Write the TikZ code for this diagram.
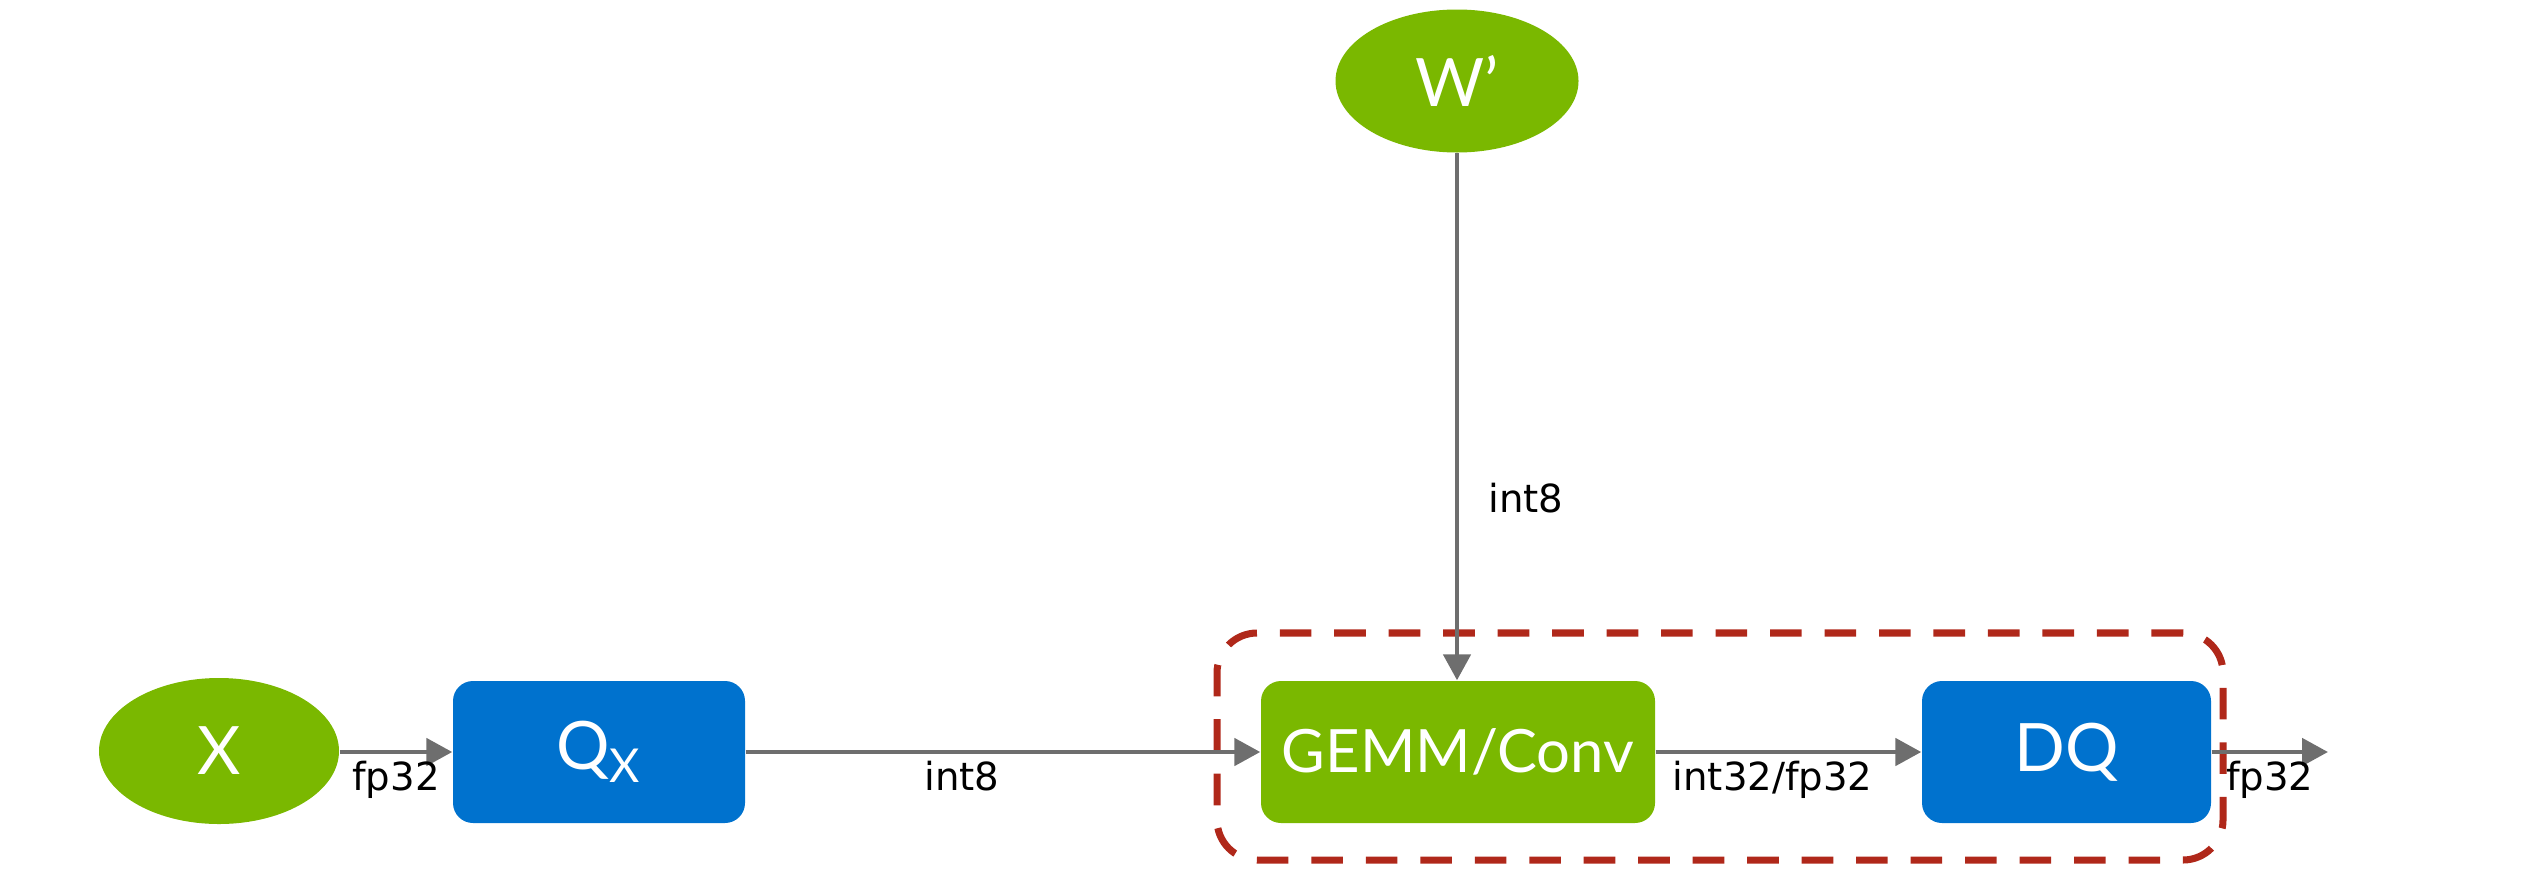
\documentclass[tikz,border=0pt]{standalone}
\usepackage{fontspec}
\setmainfont{DejaVu Sans}
\newfontfamily\nodefont{Lato}
\usetikzlibrary{shapes.geometric,arrows.meta}
\definecolor{nvgreen}{HTML}{7AB800}
\definecolor{nvblue}{HTML}{0072CE}
\definecolor{grpred}{HTML}{B0281A}
\definecolor{arrgray}{HTML}{6E6E6E}
\tikzset{
  ell/.style={ellipse, fill=nvgreen, text=white, inner sep=0pt, font=\nodefont\fontsize{19}{21}\selectfont},
  greenbox/.style={rectangle, rounded corners=0.2cm, fill=nvgreen, text=white, inner sep=0pt, minimum height=1.42cm, font=\nodefont\fontsize{19}{21}\selectfont},
  bluebox/.style={rectangle, rounded corners=0.2cm, fill=nvblue, text=white, inner sep=0pt, minimum height=1.42cm, font=\nodefont\fontsize{19}{21}\selectfont},
  conn/.style={draw=arrgray, line width=1.4pt, -{Triangle[length=0.26cm, width=0.27cm]}},
  lbl/.style={font=\fontsize{11}{13}\selectfont, text=black, inner sep=2pt},
  grp/.style={draw=grpred, line width=2pt, dash pattern=on 9pt off 6.5pt, rounded corners=0.4cm, minimum width=10.06cm, minimum height=2.27cm}
}
\begin{document}
\begin{tikzpicture}
\useasboundingbox (0,0) rectangle (25.44,-8.92);
\node[grp] (group) at (17.20,-7.465) {};
\node[ell, minimum width=2.40cm, minimum height=1.46cm] (X) at (2.19,-7.51) {X};
\node[bluebox, minimum width=2.92cm] (Qx) at (5.99,-7.52) {Q\textsubscript{X}};
\node[greenbox, minimum width=3.94cm, font=\nodefont\fontsize{17}{20}\selectfont] (gemm) at (14.58,-7.52) {GEMM/Conv};
\node[bluebox, minimum width=2.89cm] (DQ) at (20.665,-7.52) {DQ};
\node[ell, minimum width=2.43cm, minimum height=1.43cm] (W) at (14.57,-0.81) {W’};
\coordinate (out) at (23.28,-7.52);

\draw[conn] (X.east |- Qx.west) -- node[lbl, below, pos=0.5] {fp32} (Qx.west);
\draw[conn] (Qx.east) -- node[lbl, below, pos=0.42] {int8} (gemm.west);
\draw[conn] (gemm.east) -- node[lbl, below, pos=0.44] {int32/fp32} (DQ.west);
\draw[conn] (DQ.east) -- node[lbl, below, pos=0.5] {fp32} (out);
\draw[conn] (W.south) -- node[lbl, right, pos=0.655, xshift=0.22cm] {int8} (W.south |- gemm.north);
\end{tikzpicture}
\end{document}
